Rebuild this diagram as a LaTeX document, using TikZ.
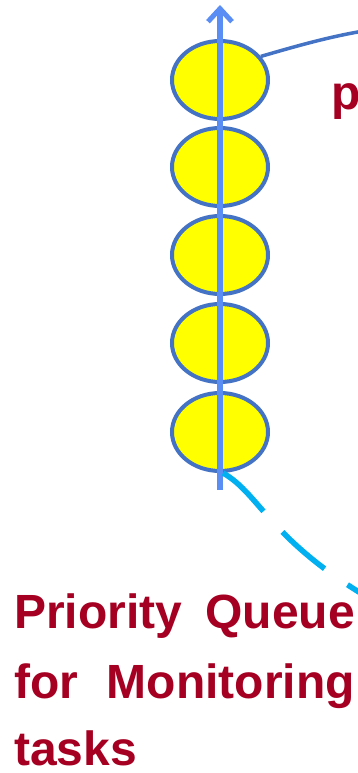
\documentclass[tikz,border=0pt]{standalone}
\usepackage{fontspec}
\setmainfont{Liberation Sans}
\usetikzlibrary{arrows.meta,shapes.geometric}
\definecolor{qred}{HTML}{A50021}
\definecolor{qfill}{HTML}{FFFF00}
\definecolor{qedge}{HTML}{4472C4}
\definecolor{qarrow}{HTML}{5B8EF5}
\definecolor{qcyan}{HTML}{00B0F0}
\begin{document}
\begin{tikzpicture}[x=1pt,y=-1pt,
  qitem/.style={ellipse,draw=qedge,fill=qfill,line width=4pt,minimum width=96pt,minimum height=78pt,inner sep=0pt},
  qword/.style={anchor=base west,text=qred,font=\fontsize{48}{58}\selectfont\bfseries,inner sep=0pt}]
\useasboundingbox (0,0) rectangle (358,773);
\foreach \i/\y in {1/80,2/167,3/255,4/343,5/432}{
  \node[qitem] (e\i) at (220,\y) {};
}
\coordinate (qbot) at (220,490);
\coordinate (qtop) at (220,5);
\draw[qarrow,line width=5.5pt,-{Straight Barb[length=13pt,width=24pt,line width=5pt]}] (qbot) -- (qtop);
\coordinate (cend) at (370,30);
\draw[qedge,line width=3.5pt] (e1.30) .. controls (290,48) and (330,36) .. (cend);
\coordinate (dend) at (390,610);
\draw[qcyan,line width=5.5pt,dash pattern=on 56pt off 28pt] (223,473) .. controls (262,495) and (270,545) .. (dend);
\node[qword] (p) at (331,110) {p};
\node[qword] (w1) at (14,628) {Priority};
\node[qword,anchor=base east] (w2) at (355,628) {Queue};
\node[qword] (w3) at (14,698) {for};
\node[qword,anchor=base east] (w4) at (355,698) {Monitoring};
\node[qword] (w5) at (14,765) {tasks};
\end{tikzpicture}
\end{document}
